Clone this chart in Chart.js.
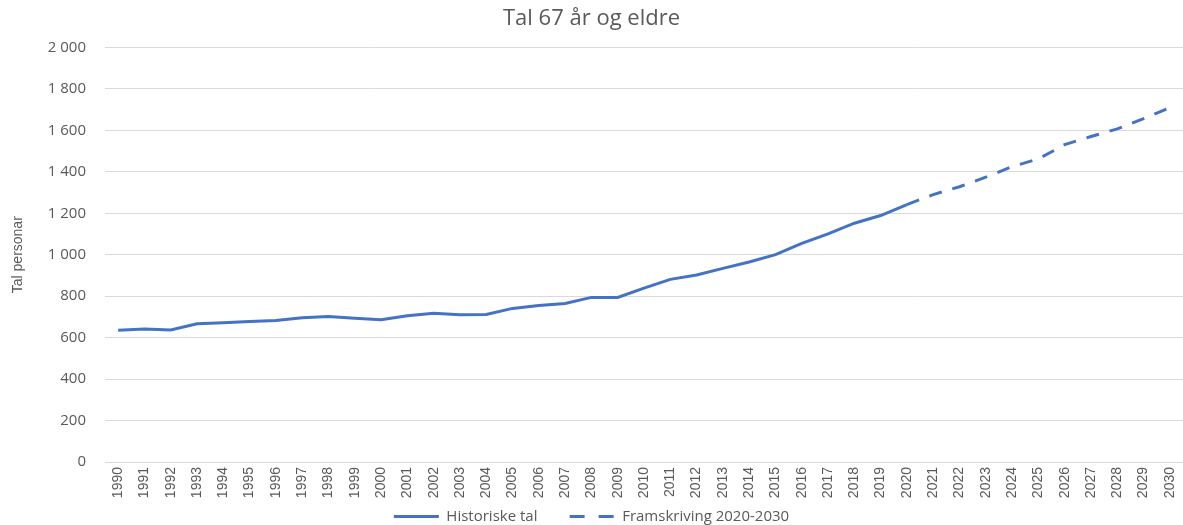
<!DOCTYPE html>
<html>
<head>
<meta charset="utf-8">
<script src="https://cdn.jsdelivr.net/npm/chart.js@4.4.1/dist/chart.umd.min.js"></script>
<style>
    html, body { margin: 0; padding: 0; background: #ffffff; }
    #wrap { width: 1183px; height: 525px; position: relative; }
</style>
</head>
<body>
<div id="wrap"><canvas id="chart"></canvas></div>
<script>
// years on the x axis
const years = [];
for (let y = 1990; y <= 2030; y++) years.push(String(y));

// historic numbers 1990-2020
const historic = [635, 642, 637, 667, 672, 678, 683, 696, 702, 694, 686, 706, 717, 710, 712,
    741, 755, 765, 794, 794, 839, 881, 902, 934, 965, 1000, 1055, 1100, 1152, 1189, 1242];

// projection 2020-2030
const projection = [1242, 1290, 1328, 1374, 1425, 1462, 1531, 1570, 1607, 1656, 1709];

const yTicks = [0, 200, 400, 600, 800, 1000, 1200, 1400, 1600, 1800, 2000];

const blue = '#4472C4';
const grey = '#595959';

// pad the series out to all 41 years
const historicData = years.map(function (y, i) {
    return i < historic.length ? historic[i] : null;
});
const projectionData = years.map(function (y, i) {
    const k = i - (years.length - projection.length);
    return k >= 0 ? projection[k] : null;
});

function fmt(v) {
    return String(v).replace(/\B(?=(\d{3})+(?!\d))/g, ' ');
}

const ctx = document.getElementById('chart').getContext('2d');
new Chart(ctx, {
    type: 'line',
    data: {
        labels: years,
        datasets: [{
            label: 'Historiske tal',
            data: historicData,
            borderColor: blue,
            backgroundColor: blue,
            borderWidth: 3,
            pointRadius: 0,
            tension: 0,
            spanGaps: false
        }, {
            label: 'Framskriving 2020-2030',
            data: projectionData,
            borderColor: blue,
            backgroundColor: blue,
            borderWidth: 3,
            borderDash: [13, 11],
            pointRadius: 0,
            tension: 0
        }]
    },
    options: {
        responsive: true,
        maintainAspectRatio: false,
        animation: false,
        layout: { padding: { top: 6, right: 0, bottom: -9, left: 0 } },
        plugins: {
            title: {
                display: true,
                text: 'Tal 67 år og eldre',
                color: grey,
                font: { family: 'Open Sans', size: 22, weight: 'normal' },
                padding: { top: 0, bottom: 15 }
            },
            legend: {
                position: 'bottom',
                labels: {
                    color: grey,
                    font: { family: 'Open Sans', size: 15 },
                    usePointStyle: true,
                    pointStyle: 'line',
                    pointStyleWidth: 45,
                    boxHeight: 15,
                    padding: 1,
                    generateLabels: function (chart) {
                        const items = Chart.defaults.plugins.legend.labels.generateLabels(chart);
                        items.forEach(function (item, i) {
                            item.lineWidth = 3;
                            item.strokeStyle = blue;
                            item.lineDash = i === 1 ? [15, 14] : [];
                            if (i === 0) item.text = item.text + '        ';
                        });
                        return items;
                    }
                }
            },
            tooltip: { enabled: false }
        },
        scales: {
            x: {
                offset: true,
                grid: { display: false, drawTicks: false },
                border: { display: false },
                ticks: {
                    color: grey,
                    font: { family: 'Liberation Sans Narrow, Liberation Sans', size: 14 },
                    minRotation: 90,
                    maxRotation: 90,
                    autoSkip: false,
                    padding: 5
                },
                afterFit: function (scale) {
                    scale.height = 46;
                    scale.paddingLeft = 0;
                    scale.paddingRight = 0;
                }
            },
            y: {
                min: 0,
                max: 2000,
                afterBuildTicks: function (scale) {
                    scale.ticks = yTicks.map(function (v) { return { value: v }; });
                },
                grid: { color: '#d9d9d9', lineWidth: 1, drawTicks: false },
                border: { display: false },
                ticks: {
                    color: grey,
                    font: { family: 'Open Sans', size: 15 },
                    padding: 19,
                    callback: function (v) { return fmt(v); }
                },
                title: {
                    display: true,
                    text: 'Tal personar',
                    color: grey,
                    font: { family: 'Liberation Sans Narrow, Liberation Sans', size: 14 },
                    padding: { top: 10, bottom: 0 }
                },
                afterFit: function (scale) { scale.width = 105; }
            }
        }
    }
});
</script>
</body>
</html>
